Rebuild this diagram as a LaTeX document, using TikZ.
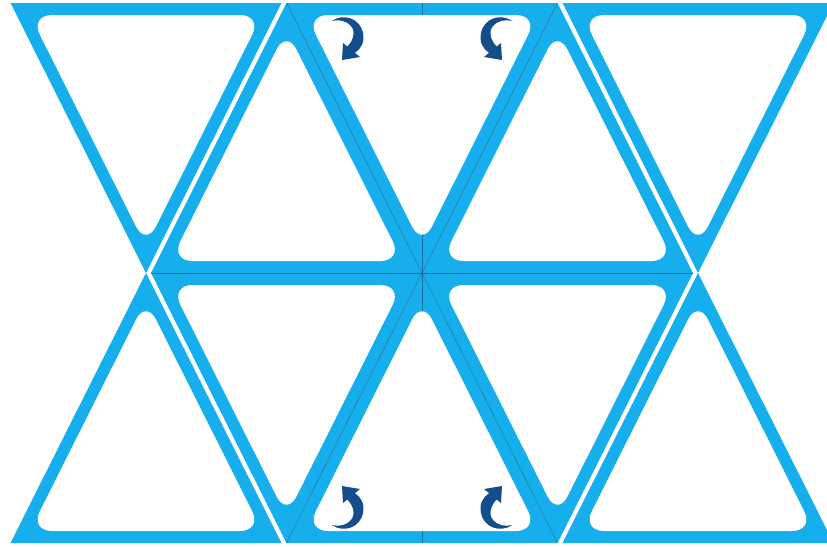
\documentclass[tikz,border=0pt]{standalone}
\definecolor{tileblue}{RGB}{22,174,236}
\definecolor{arrowblue}{RGB}{20,78,138}
\definecolor{seam}{RGB}{25,70,100}
\begin{document}
\begin{tikzpicture}[x=1pt,y=-1pt,
  tile/.style={fill=tileblue},
  hole/.style={fill=white, rounded corners=22pt},
  seamline/.style={draw=seam, line width=0.5pt, opacity=0.6},
  curl/.pic={\fill[arrowblue] (-90,-252) .. controls (-79,-260) and (-62,-255) .. (-59,-240)
      .. controls (-57,-231) and (-61,-224) .. (-67.1,-220.2) -- (-62,-216) -- (-80,-213) -- (-79,-230)
      -- (-74.75,-226.5) .. controls (-69,-232) and (-66,-241) .. (-71,-247)
      .. controls (-75,-252) and (-83,-254) .. (-90,-252) -- cycle;}]
\useasboundingbox (0,0) rectangle (827,546);
\clip (0,0) rectangle (827,546);
% outer tiles pointing up
\foreach \ax/\ty in {286.5/3, 557.5/3, 146/273, 422/273, 698/273}
  \fill[tile] (\ax,\ty) -- (\ax-135.5,\ty+270) -- (\ax+135.5,\ty+270) -- cycle;
% outer tiles pointing down
\foreach \ax/\ty in {146/3, 422/3, 698/3, 286.5/273, 557.5/273}
  \fill[tile] (\ax-135.5,\ty) -- (\ax+135.5,\ty) -- (\ax,\ty+270) -- cycle;
% seams inside the central block
\draw[seamline] (286.5,3) -- (422,273) -- (557.5,3);
\draw[seamline] (286.5,543) -- (422,273) -- (557.5,543);
\draw[seamline] (151,273) -- (693,273);
\draw[seamline] (422,3) -- (422,543);
% white windows
\foreach \ax/\ty in {286.5/3, 557.5/3, 146/273, 422/273, 698/273}
  \fill[hole] (\ax,\ty+26.75) -- (\ax-116.06,\ty+258) -- (\ax+116.06,\ty+258) -- cycle;
\foreach \ax/\ty in {146/3, 422/3, 698/3, 286.5/273, 557.5/273}
  \fill[hole] (\ax-116.06,\ty+12) -- (\ax+116.06,\ty+12) -- (\ax,\ty+243.25) -- cycle;
% turning arrows
\pic at (422,273) {curl};
\pic[xscale=-1] at (422,273) {curl};
\pic[yscale=-1] at (422,273) {curl};
\pic[xscale=-1,yscale=-1] at (422,273) {curl};
\end{tikzpicture}
\end{document}
